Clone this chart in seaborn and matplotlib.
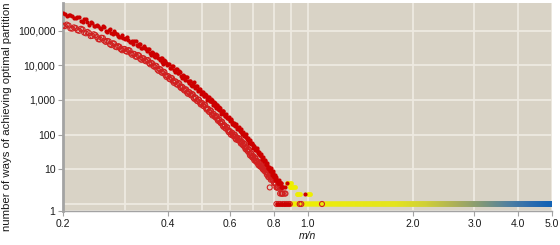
import numpy as np
import matplotlib
matplotlib.use("Agg")
import matplotlib.pyplot as plt
import matplotlib.colors as mcolors
from matplotlib.ticker import FixedLocator, NullFormatter
import seaborn as sns
import pandas as pd

# ---------------- data ----------------
red_x = np.round(np.arange(0.200, 0.8501, 0.005), 4)    # m/n sample grid A
red_xb = np.round(np.arange(0.2025, 0.8476, 0.005), 4)  # m/n sample grid B

upper_counts = [
    316000, 263000, 285000, 229000, 240000, 191000, 214000, 178000, 174000, 132000,
    148000, 120000, 132000, 100000, 105000, 83000, 95000, 78000, 67000, 72000,
    57000, 63000, 47000, 50000, 51000, 38000, 41000, 31000, 35000, 29000,
    30000, 23000, 23500, 18500, 21000, 16000, 16300, 12300, 13700, 11300,
    11000, 8500, 9600, 7400, 7800, 6000, 6800, 4900, 5100, 4250,
    4550, 3450, 3600, 2750, 3080, 2500, 2580, 1910, 2050, 1660,
    1740, 1320, 1520, 1140, 1200, 910, 1030, 850, 890, 660,
    710, 560, 630, 450, 480, 470, 350, 380, 295, 325,
    250, 280, 200, 220, 178, 197, 148, 164, 132, 146,
    105, 115, 91, 105, 74, 81, 59, 69, 54, 59,
    42, 47, 36, 42, 29, 32, 25, 28, 20, 23,
    17, 19, 14, 15, 11, 12, 9, 11, 8, 9,
    6, 7, 5, 6, 5, 4, 4, 4, 4, 3,
    3,
]

upper_counts_b = [
    292000, 279000, 257000, 230000, 248000, 179000, 217000, 146000, 167000, 136000,
    138000, 110000, 128000, 88000, 108000, 82000, 87000, 69000, 66000, 62000,
    59000, 52000, 48000, 40500, 49500, 35000, 40000, 31000, 31400, 25400,
    29700, 19500, 22600, 17500, 19800, 14200, 15700, 11100, 13200, 9900,
    11000, 8100, 9200, 6400, 7900, 5800, 6400, 4300, 5000, 3850,
    4540, 3070, 3520, 2580, 3190, 2230, 2440, 1820, 2010, 1490,
    1730, 1280, 1420, 1000, 1210, 940, 975, 730, 820, 600,
    710, 500, 590, 395, 485, 400, 350, 314, 300, 282,
    260, 232, 205, 193, 187, 171, 154, 141, 129, 122,
    108, 100, 92, 87, 79, 70, 61, 58, 54, 50,
    44, 41, 37, 35, 31, 28, 25, 24, 20, 20,
    17, 17, 14, 13, 11, 10, 10, 9, 7, 8,
    6, 6, 5, 5, 4, 5, 4, 3, 4, 3,
]

lower_counts = [
    138000, 148000, 115000, 123000, 102000, 112000, 87000, 91000, 69000, 78000,
    65000, 55000, 61000, 47000, 49000, 38000, 42000, 33000, 34000, 27000,
    29500, 24500, 26500, 20000, 21000, 17500, 19000, 14300, 15800, 13000,
    14100, 10600, 11200, 9000, 9500, 6900, 7500, 6000, 6300, 4600,
    4800, 3900, 4200, 3100, 3400, 2750, 2950, 2200, 2300, 1860,
    2000, 1500, 1650, 1350, 1450, 1070, 1130, 920, 1000, 740,
    810, 660, 710, 525, 550, 450, 480, 355, 390, 316,
    340, 250, 270, 214, 234, 168, 182, 148, 162, 118,
    126, 98, 112, 89, 99, 72, 82, 68, 76, 55,
    62, 48, 54, 38, 43, 33, 37, 25, 29, 22,
    24, 18, 21, 16, 17, 13, 15, 12, 13, 10,
    11, 9, 10, 7, 8, 6, 7, 5, 6, 5,
    5, 4, 4, 3, 3, 4, 3, 2, 3, 2,
    2,
]

lower_counts_b = [
    134000, 139000, 113000, 118000, 98000, 107000, 83000, 84000, 70000, 74000,
    56000, 62000, 51000, 50000, 40000, 43000, 34000, 35500, 29000, 29000,
    25400, 27300, 21900, 21500, 17700, 19700, 15300, 15900, 13700, 14000,
    11500, 11700, 9500, 9700, 7450, 7800, 6200, 6500, 5200, 4900,
    4040, 4330, 3420, 3410, 2810, 3080, 2370, 2390, 1990, 2010,
    1630, 1680, 1420, 1470, 1150, 1190, 950, 1020, 830, 805,
    686, 733, 580, 564, 457, 502, 384, 394, 337, 341,
    274, 278, 228, 235, 182, 189, 153, 164, 132, 127,
    104, 112, 95, 99, 77, 83, 70, 76, 62, 60,
    52, 55, 43, 42, 35, 38, 28, 29, 24, 24,
    20, 21, 17, 17, 14, 15, 12, 13, 11, 11,
    9, 10, 8, 8, 6, 7, 6, 6, 5, 5,
    4, 5, 4, 3, 3, 4, 3, 3, 2, 2,
]

filled_extra_x = [0.86, 0.873, 0.984, 0.82, 0.83, 0.84, 0.845, 0.855, 0.865, 0.875, 0.885]
filled_extra_y = [3, 4, 2, 1, 1, 1, 1, 1, 1, 1, 1]

open_extra_x = [0.78, 0.86, 0.865, 0.815, 0.825, 0.835, 0.85, 0.86, 0.87, 0.88, 0.89, 0.95, 0.96, 1.10]
open_extra_y = [3, 2, 2, 1, 1, 1, 1, 1, 1, 1, 1, 1, 1, 1]

yellow_x = [0.875, 0.885, 0.895, 0.89, 0.90, 0.91, 0.92, 0.935, 0.94, 0.95, 1.005, 1.015]
yellow_y = [4, 4, 4, 3, 3, 3, 3, 2, 2, 2, 2, 2]

tail_x = np.round(np.arange(0.890, 5.0001, 0.005), 3)  # m/n sample grid
tail_y = np.ones_like(tail_x)  # one optimal partition everywhere on the tail

x_ticks = [0.2, 0.4, 0.6, 0.8, 1.0, 2.0, 3.0, 4.0, 5.0]
x_tick_labels = ["0.2", "0.4", "0.6", "0.8", "1.0", "2.0", "3.0", "4.0", "5.0"]
x_minor_grid = [0.3, 0.5, 0.7, 0.9]
y_grid = [1, 10, 100, 1000, 10000, 100000]
y_tick_labels = ["1", "10", "100", "1,000", "10,000", "100,000"]

# ---------------- style ----------------
BG = "#D9D3C6"
GRID = "#EEEAE1"
SPINE = "#A3A3A3"
RED = "#CC0000"
YELLOW = "#EEEE00"

tail_stops = [(0.89, "#F0F000"), (1.8, "#E4E41C"), (2.2, "#D0D036"),
              (2.7, "#ABAF5A"), (3.2, "#819878"), (3.8, "#5281A0"),
              (4.4, "#2E6DAE"), (5.0, "#1262B4")]
lo, hi = np.log(0.89), np.log(5.0)
cmap = mcolors.LinearSegmentedColormap.from_list(
    "tail", [((np.log(v) - lo) / (hi - lo), c) for v, c in tail_stops])

plt.rcParams["font.family"] = ["Liberation Sans", "DejaVu Sans"]
plt.rcParams["font.size"] = 7.5

fig = plt.figure(figsize=(5.6, 2.45), dpi=100)
ax = fig.add_axes([63 / 560, 34 / 245, 489 / 560, 208 / 245])
ax.set_facecolor(BG)

ax.set_xscale("log")
ax.set_yscale("log")
ax.set_xlim(0.2, 5.0)
ax.set_ylim(0.628, 621000)

df_tail = pd.DataFrame({"x": tail_x, "y": tail_y})
sns.scatterplot(data=df_tail, x="x", y="y", hue="x", palette=cmap,
                hue_norm=mcolors.LogNorm(0.89, 5.0), legend=False,
                s=12, linewidth=0, ax=ax, zorder=3)

sns.scatterplot(x=yellow_x, y=yellow_y, color=YELLOW, s=12, linewidth=0,
                ax=ax, zorder=4)

open_x = list(red_x) + list(red_xb) + open_extra_x
open_y = list(lower_counts) + list(lower_counts_b) + open_extra_y
sns.scatterplot(x=open_x, y=open_y, s=13, facecolor="none",
                edgecolor="#D02020", linewidth=0.8, ax=ax, zorder=5)

filled_x = list(red_x) + list(red_xb) + filled_extra_x
filled_y = list(upper_counts) + list(upper_counts_b) + filled_extra_y
sns.scatterplot(x=filled_x, y=filled_y, color=RED, s=9, linewidth=0,
                ax=ax, zorder=6)

# ticks and grid
ax.xaxis.set_major_locator(FixedLocator(x_ticks))
ax.set_xticklabels(x_tick_labels)
ax.xaxis.set_minor_locator(FixedLocator(x_minor_grid))
ax.xaxis.set_minor_formatter(NullFormatter())

ybottom = ax.get_ylim()[0]
ax.yaxis.set_major_locator(FixedLocator([ybottom] + y_grid[1:]))
ax.set_yticklabels(y_tick_labels)
ax.yaxis.set_minor_locator(FixedLocator([1]))
ax.yaxis.set_minor_formatter(NullFormatter())

ax.grid(True, which="both", color=GRID, linewidth=1.3, zorder=0)
ax.set_axisbelow(True)

ax.tick_params(axis="both", which="major", length=3.5, width=0.8,
               color=SPINE, labelcolor="#1a1a1a", labelsize=7.5, pad=2)
ax.tick_params(axis="both", which="minor", length=0)

for side in ["top", "right"]:
    ax.spines[side].set_visible(False)
ax.spines["left"].set_color(SPINE)
ax.spines["left"].set_linewidth(2.0)
ax.spines["bottom"].set_color(SPINE)
ax.spines["bottom"].set_linewidth(1.0)

ax.set_xlabel("m/n", fontstyle="italic", fontsize=7.5, color="#1a1a1a", labelpad=2)
ax.set_ylabel("number of ways of achieving optimal partition", fontsize=8.2,
              color="#1a1a1a")
ax.yaxis.set_label_coords(-0.104, 0.455)

fig.savefig("out.png", dpi=100, facecolor="white")
